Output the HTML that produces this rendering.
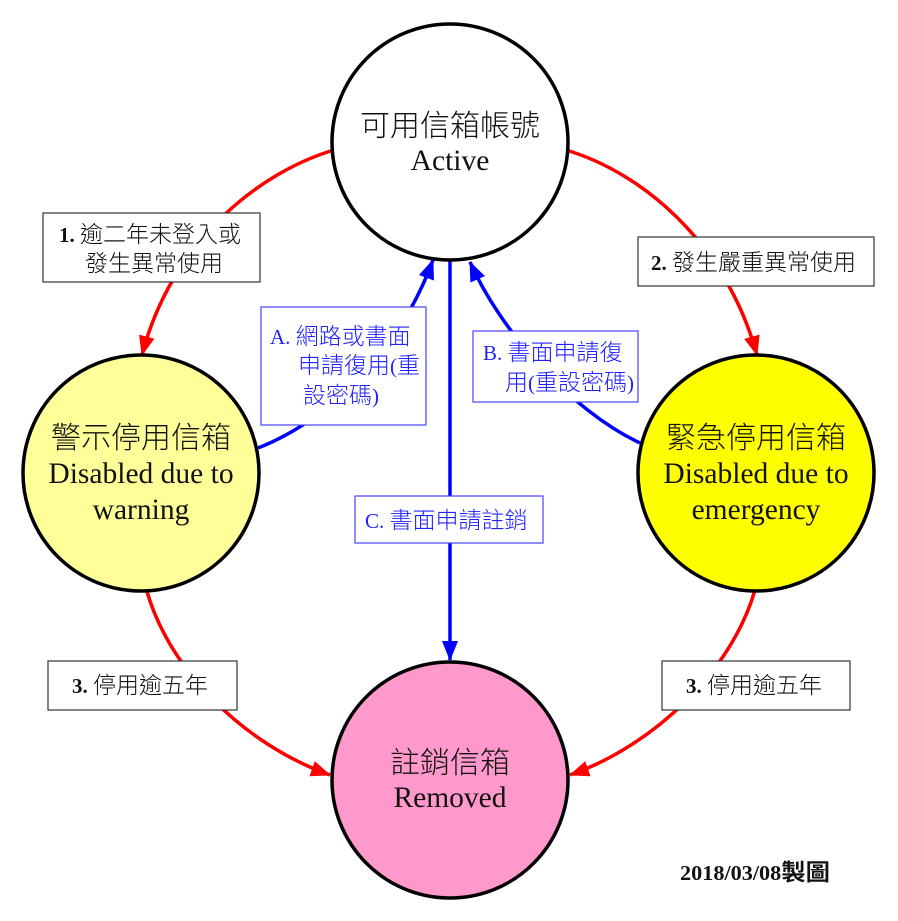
<!DOCTYPE html>
<html><head><meta charset="utf-8"><style>
html,body{margin:0;padding:0;background:#fff}
svg{display:block}
.c{font-family:"Liberation Serif","Noto Sans CJK TC",serif;}
.k{font-weight:300}
</style></head><body>
<svg width="898" height="921" viewBox="0 0 898 921" xmlns="http://www.w3.org/2000/svg" class="c">
<defs>
<marker id="ar" markerUnits="userSpaceOnUse" markerWidth="20" markerHeight="16" refX="19" refY="8" orient="auto"><path d="M0,0 L20,8 L0,16 Z" fill="#ff0000"/></marker>
<marker id="ab" markerUnits="userSpaceOnUse" markerWidth="20" markerHeight="16" refX="19" refY="8" orient="auto"><path d="M0,0 L20,8 L0,16 Z" fill="#0000ff"/></marker>
</defs>
<g fill="none" stroke-width="3.5">
<path d="M334,150 C260,172 172,240 142,355" stroke="#ff0000" marker-end="url(#ar)"/>
<path d="M566,150 C640,172 725,240 757,355" stroke="#ff0000" marker-end="url(#ar)"/>
<path d="M146,588 C168,670 245,745 330,775" stroke="#ff0000" marker-end="url(#ar)"/>
<path d="M755,590 C732,670 655,745 570,775" stroke="#ff0000" marker-end="url(#ar)"/>
<path d="M258,448 C330,420 400,350 433,260" stroke="#0000ff" marker-end="url(#ab)"/>
<path d="M640,443 C570,410 500,330 470,262" stroke="#0000ff" marker-end="url(#ab)"/>
<path d="M450,260 L450,660" stroke="#0000ff" marker-end="url(#ab)"/>
</g>
<g stroke="#000" stroke-width="3.5">
<circle cx="450" cy="142" r="118" fill="#fff"/>
<circle cx="141" cy="473" r="118" fill="#ffff99"/>
<circle cx="756" cy="473" r="118" fill="#ffff00"/>
<circle cx="450" cy="780" r="118" fill="#ff99cc"/>
</g>
<g fill="#fff" stroke="#333" stroke-width="1.2">
<rect x="43" y="213" width="217" height="69"/>
<rect x="638" y="237" width="236" height="49"/>
<rect x="48" y="661" width="189" height="49"/>
<rect x="662" y="661" width="188" height="49"/>
</g>
<g fill="#fff" stroke="#4444ff" stroke-width="1.2">
<rect x="261" y="307" width="165" height="118"/>
<rect x="473" y="331" width="165" height="71"/>
<rect x="355" y="496" width="188" height="47"/>
</g>
<g font-size="29.5" text-anchor="middle" fill="#111">
<text x="450" y="136" class="k" font-size="30">可用信箱帳號</text>
<text x="450" y="170">Active</text>
<text x="141" y="448" class="k" font-size="30">警示停用信箱</text>
<text x="141" y="483">Disabled due to</text>
<text x="141" y="519">warning</text>
<text x="756" y="448" class="k" font-size="30">緊急停用信箱</text>
<text x="756" y="483">Disabled due to</text>
<text x="756" y="519">emergency</text>
<text x="450" y="773" class="k" font-size="30">註銷信箱</text>
<text x="450" y="807">Removed</text>
</g>
<g font-size="21" fill="#111">
<text x="59" y="242"><tspan font-weight="bold">1.</tspan> <tspan class="k" font-size="23">逾二年未登入或</tspan></text>
<text x="85" y="271" class="k" font-size="23">發生異常使用</text>
<text x="651" y="270"><tspan font-weight="bold">2.</tspan> <tspan class="k" font-size="23">發生嚴重異常使用</tspan></text>
<text x="72" y="693"><tspan font-weight="bold">3.</tspan> <tspan class="k" font-size="23">停用逾五年</tspan></text>
<text x="686" y="693"><tspan font-weight="bold">3.</tspan> <tspan class="k" font-size="23">停用逾五年</tspan></text>
<text x="680" y="880" font-weight="bold" font-size="21" textLength="150" lengthAdjust="spacingAndGlyphs">2018/03/08<tspan font-size="23">製圖</tspan></text>
</g>
<g font-size="21" fill="#2222ff">
<text x="270" y="344">A. <tspan class="k" font-size="23">網路或書面</tspan></text>
<text x="298" y="373"><tspan class="k" font-size="23">申請復用</tspan>(<tspan class="k" font-size="23">重</tspan></text>
<text x="303" y="403"><tspan class="k" font-size="23">設密碼</tspan>)</text>
<text x="483" y="360">B. <tspan class="k" font-size="23">書面申請復</tspan></text>
<text x="505" y="390"><tspan class="k" font-size="23">用</tspan>(<tspan class="k" font-size="23">重設密碼</tspan>)</text>
<text x="365" y="528">C. <tspan class="k" font-size="23">書面申請註銷</tspan></text>
</g>
</svg>
</body></html>
